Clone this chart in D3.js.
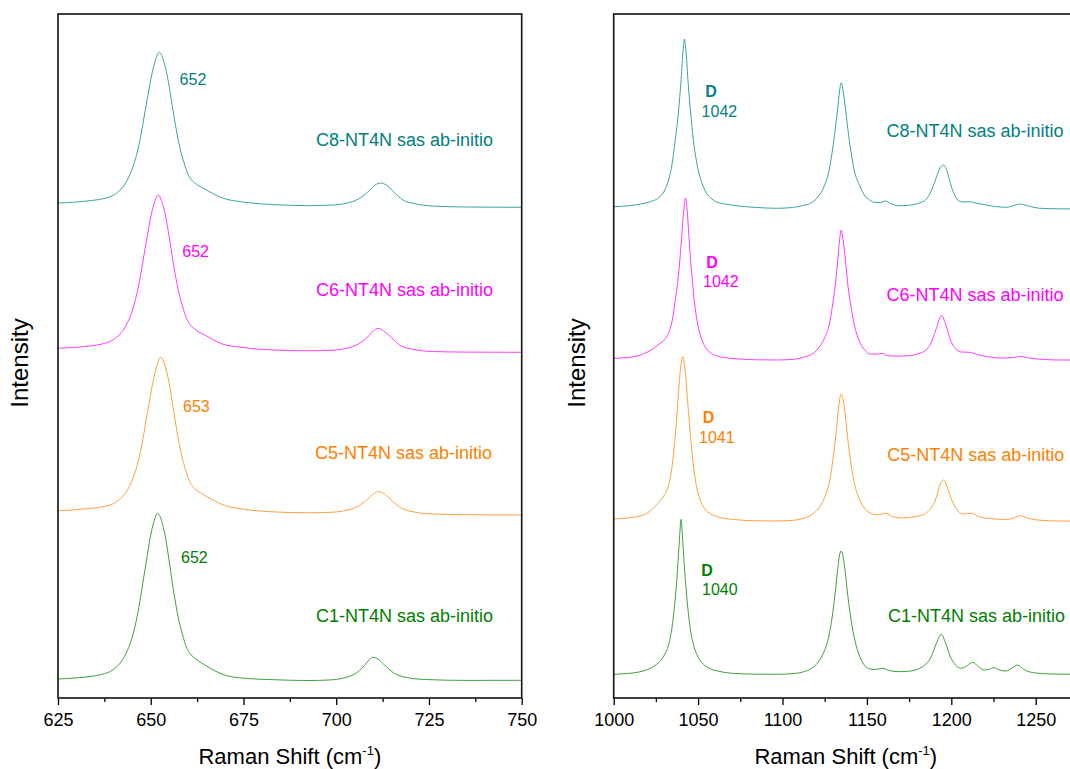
<!DOCTYPE html>
<html>
<head>
<meta charset="utf-8">
<script src="https://cdn.jsdelivr.net/npm/d3@7"></script>
<style>
  body { margin: 0; background: #fff; }
  svg { display: block; font-family: "Liberation Sans", Arial, sans-serif; }
</style>
</head>
<body>
<svg id="chart" width="1070" height="769"></svg>
<script>
// series names / colours (top to bottom)
var seriesNames = ['C8-NT4N sas ab-initio', 'C6-NT4N sas ab-initio', 'C5-NT4N sas ab-initio', 'C1-NT4N sas ab-initio'];
var lineColors = ['#3aa2a2', '#ff3cff', '#ffa040', '#40a040'];
var textColors = ['#008080', '#ff00ff', '#ff8000', '#008000'];

// peak labels
var leftPeaks = ['652', '652', '653', '652'];
var rightPeaks = ['1042', '1042', '1041', '1040'];

// tick values
var leftTicks = [625, 650, 675, 700, 725, 750];
var rightTicks = [1000, 1050, 1100, 1150, 1200, 1250];

// spectra, [raman shift, intensity incl. stack offset]
var c8Left = [[625,495],[630,496],[634,497.5],[637.2,499.3],[640,503],[642,509],[643.7,518],[645.2,531],[646.5,548],[647.5,566],[648.3,583],[649.3,604],[650.2,622],[651.2,637],[652.3,645.7],[653.3,639],[654.3,625],[655.3,604],[656.2,583],[657.1,564],[658,548],[659,535],[659.9,525],[660.8,519],[661.8,515.3],[663.3,511.5],[665,508],[667,504],[669.6,499.7],[674.3,496.3],[683.5,493.3],[692.8,492.3],[699,493],[703,495],[706,499],[708.5,506],[710.5,513],[712,515],[713.5,513],[715.5,506],[718,498],[721,494.5],[726,492],[735,491],[750,490.7]];
var c6Left = [[625,349.7],[630,350.7],[634,352.2],[636.9,354],[639.7,357.8],[641.7,363.9],[643.4,373],[644.9,386],[646.2,403.5],[647.2,421.5],[648,439],[649,460.5],[649.9,479],[650.9,494.5],[652,503],[653,496.3],[654,482],[655,460.5],[655.9,439],[656.8,419.7],[657.7,403.5],[658.7,390],[659.6,380],[660.5,374],[661.5,370],[663,366],[664.7,362.7],[666.7,358.5],[669.3,354],[674,350.9],[683.2,348],[692.5,347.2],[699,347.8],[703,350],[706,354],[708.5,361],[710,367],[711.3,369.7],[712.8,367],[715,360],[717.5,352],[721,348.5],[726,346.5],[735,345.9],[750,345.7]];
var c5Left = [[625,187.3],[630,188.3],[634,189.8],[637.6,191.6],[640.4,195.3],[642.4,201.5],[644.1,210.5],[645.6,223.6],[646.9,240.9],[647.9,259.2],[648.7,276.5],[649.7,297.9],[650.6,316.2],[651.6,331.5],[652.7,340.7],[653.7,334],[654.7,319.8],[655.7,298.4],[656.6,277],[657.5,257.7],[658.4,241.4],[659.4,228.2],[660.3,218],[661.2,212],[662.2,208.2],[663.7,204.4],[665.4,200.8],[667.4,196.8],[670,192.5],[674.7,189],[683.9,186],[693,185.2],[699,185.8],[703,188],[706,192],[708.5,199],[710,204],[711.5,206.3],[713,204],[715,197.5],[717.5,190],[721,186],[726,184],[735,183.3],[750,183]];
var c1Left = [[625,19],[630,20.1],[634,21.7],[636.8,23.6],[639.6,27.7],[641.6,34.3],[643.3,44.2],[644.8,58.5],[646.1,77.2],[647.1,97],[647.9,115.7],[648.9,138.8],[649.8,159.2],[650.8,175.7],[651.9,184.7],[652.9,177.5],[653.9,162],[654.9,138.8],[655.8,115.7],[656.7,94.8],[657.6,77.2],[658.6,62.9],[659.5,51.9],[660.4,45.3],[661.4,41.3],[662.9,37],[664.6,33],[666.6,28.6],[669.2,23.9],[673.9,20.2],[683.1,18.3],[692.4,17.5],[698,18],[702,20],[705,24],[707.5,32],[709,38.5],[709.8,40.7],[711,39.5],[713,33],[715.5,25],[719,20.5],[724,18.5],[735,17.6],[750,17.7]];

var c8Right = [[1000,491.3],[1010,492.5],[1016,494],[1022,496.5],[1026.5,500],[1030,507],[1032.5,518],[1034.5,533],[1036.5,558],[1038.3,585],[1039.8,615],[1041,645],[1041.9,659],[1042.9,645],[1044.1,615],[1045.6,585],[1047.2,558],[1049,537],[1050.5,525],[1052.5,514],[1054.5,506.3],[1057.5,500],[1060.5,496.3],[1066,494],[1072.5,492.3],[1085,490.5],[1096.5,489.7],[1106,490.5],[1112,492.5],[1116.6,494.7],[1121,501],[1124.6,511.3],[1127.5,527],[1129.6,548],[1131.2,568],[1132.6,588],[1133.8,607],[1134.8,615.3],[1135.9,607],[1137.4,588],[1138.8,568],[1140.4,548],[1142.6,527],[1145.6,513],[1148.5,503],[1151.6,498],[1155,495.5],[1158,495.5],[1161,497],[1164,494.5],[1168.7,492.3],[1175,492.8],[1181,495],[1184.7,498],[1187.5,505],[1190.6,518],[1193,529],[1195.3,533],[1197.5,527],[1199.7,513],[1202,503],[1204.7,496.8],[1208,496],[1210.7,496.3],[1215,494.8],[1220.7,493],[1226,491.5],[1232.7,490.7],[1237,492.5],[1241.1,494],[1245,492.3],[1252.7,489.7],[1262,489.2],[1275,489]];
var c6Right = [[1000,339.7],[1008,340.5],[1015,342.5],[1020,346],[1024,350],[1027.4,354.7],[1030,358],[1032.5,365],[1034.5,376],[1036.5,398],[1038.5,425],[1040,455],[1041.4,486],[1042.5,500],[1043.6,486],[1044.8,455],[1046.2,425],[1047.7,398],[1049.3,378],[1051,365],[1053,355],[1055.5,348],[1059,343.5],[1064,341],[1072,339.3],[1085,338.2],[1097,338],[1107,338.8],[1113,341],[1117,343.5],[1121,349],[1124.6,359],[1127.5,372],[1129.6,392],[1131.2,412],[1132.6,436],[1133.8,458],[1134.8,468],[1135.9,458],[1137.4,436],[1138.8,412],[1140.5,392],[1142.7,372],[1145.5,357],[1148.5,348.5],[1152,344],[1156,343.8],[1158.8,344.7],[1162,342.5],[1168,341.8],[1175,342.5],[1181,344.5],[1185,348],[1188,355],[1190.8,368],[1194.3,382.3],[1196.8,373],[1199.5,358],[1202.5,349.5],[1206,346],[1210.7,345.7],[1215,343.5],[1221,341.5],[1230,340],[1237,340.5],[1241.3,341.5],[1245,340.3],[1255,338.5],[1265,338],[1275,338]];
var c5Right = [[1000,179],[1008,180],[1014,181.5],[1019,184],[1023,189],[1026,194.5],[1027.8,198],[1030,203],[1032,210],[1034,225],[1035.8,250],[1037.3,280],[1038.6,310],[1039.8,333],[1040.9,341.3],[1042,333],[1043.2,310],[1044.6,280],[1046.1,250],[1047.8,225],[1049.5,208],[1051.5,197],[1054,189],[1057.5,184],[1063,180.5],[1072,178.3],[1085,177.2],[1097,177],[1107,177.8],[1113,180],[1117,183],[1121,189],[1124.6,199],[1127.5,214],[1129.6,235],[1131.2,257],[1132.6,280],[1133.8,298],[1134.8,304],[1135.9,298],[1137.4,280],[1138.8,257],[1140.5,235],[1142.7,214],[1145.5,199],[1148.5,190],[1152,185],[1156,183.2],[1161.3,184.7],[1165,181.5],[1171,180],[1177,181],[1181.5,182.3],[1185,185],[1188,190],[1191,200],[1193.3,213],[1195.3,218],[1197.4,212],[1200,199],[1203,189],[1207,184],[1212,184.7],[1217,181],[1224,179.3],[1232,178.5],[1237,180],[1241,182.3],[1245,180],[1255,177.5],[1265,177],[1275,177]];
var c1Right = [[1000,23.7],[1008,24.5],[1015,26],[1020,28.5],[1024,32],[1027,36],[1030,43],[1032.5,53],[1034.5,70],[1036.3,97],[1037.8,128],[1039,160],[1039.9,178.7],[1040.8,160],[1042,128],[1043.5,97],[1045.3,70],[1047.3,53],[1050,41],[1053,34],[1057,29.5],[1063,26.5],[1072,24.5],[1085,23.8],[1097,23.7],[1107,24.5],[1113,26.5],[1117,29.5],[1121,35.5],[1124.5,46],[1127.5,62],[1129.6,83],[1131.2,105],[1132.6,127],[1133.8,143],[1134.7,147],[1135.7,143],[1137.1,127],[1138.5,105],[1140.2,83],[1142.3,62],[1145,45],[1148,34],[1151,29.5],[1155,28.5],[1159.2,29.7],[1163,27.5],[1169,26.3],[1176,27],[1181,29.5],[1185,34],[1188,41],[1190.8,53],[1194,63.7],[1196.8,54],[1199.5,41],[1202.5,33],[1206,29.7],[1209.5,32.5],[1212.7,35.7],[1216,31.5],[1219.5,28],[1222.5,28.8],[1225.3,30.3],[1228.5,28],[1232.4,27],[1236,30],[1239.3,33],[1243,28.5],[1250,25],[1260,24],[1275,23.7]];

var leftSeries = [c8Left, c6Left, c5Left, c1Left];
var rightSeries = [c8Right, c6Right, c5Right, c1Right];

var svg = d3.select('#chart');
var plotTop = 14, plotBottom = 698;

var y = d3.scaleLinear().domain([0, 684]).range([plotBottom, plotTop]);

var panels = [
    { id: 'L', x: d3.scaleLinear().domain([625, 750]).range([58, 521.7]), ticks: leftTicks, minorStep: 12.5, series: leftSeries, titleX: 28 },
    { id: 'R', x: d3.scaleLinear().domain([1000, 1275]).range([613.7, 1077.9]), ticks: rightTicks, minorStep: 25, series: rightSeries, titleX: 585 }
];

panels.forEach(function (p) {
    var x0 = p.x.range()[0], x1 = p.x.range()[1];

    svg.append('clipPath').attr('id', 'clip' + p.id)
        .append('rect').attr('x', x0).attr('y', plotTop).attr('width', x1 - x0).attr('height', plotBottom - plotTop);

    var line = d3.line()
        .x(function (d) { return p.x(d[0]); })
        .y(function (d) { return y(d[1]); })
        .curve(d3.curveMonotoneX);

    svg.append('g').attr('clip-path', 'url(#clip' + p.id + ')')
        .selectAll('path')
        .data(p.series)
        .enter()
        .append('path')
        .attr('d', line)
        .attr('fill', 'none')
        .attr('stroke', function (d, i) { return lineColors[i]; })
        .attr('stroke-width', 1);

    // minor ticks
    var minor = d3.range(p.x.domain()[0], p.x.domain()[1] + 0.01, p.minorStep)
        .filter(function (v) { return p.ticks.indexOf(v) < 0; });
    svg.append('g').attr('transform', 'translate(0,' + plotBottom + ')')
        .call(d3.axisBottom(p.x).tickValues(minor).tickSize(4).tickFormat(''))
        .call(function (g) { g.select('.domain').remove(); })
        .selectAll('line').attr('stroke', '#000').attr('stroke-width', 1.3);

    // major ticks
    var ax = svg.append('g').attr('transform', 'translate(0,' + plotBottom + ')')
        .call(d3.axisBottom(p.x).tickValues(p.ticks).tickSize(7).tickPadding(8).tickFormat(d3.format('d')));
    ax.select('.domain').remove();
    ax.selectAll('line').attr('stroke', '#000').attr('stroke-width', 1.3);
    ax.selectAll('text').attr('font-size', 18).attr('fill', '#000')
        .attr('font-family', '"Liberation Sans", Arial, sans-serif');

    // frame
    svg.append('rect')
        .attr('x', x0).attr('y', plotTop)
        .attr('width', x1 - x0).attr('height', plotBottom - plotTop)
        .attr('fill', 'none').attr('stroke', '#111').attr('stroke-width', 1.6);

    // axis titles
    var t = svg.append('text')
        .attr('x', (x0 + x1) / 2).attr('y', 764)
        .attr('text-anchor', 'middle').attr('font-size', 22);
    t.append('tspan').text('Raman Shift (cm');
    t.append('tspan').attr('font-size', 13).attr('dy', -9).text('-1');
    t.append('tspan').attr('dy', 9).text(')');

    svg.append('text')
        .attr('transform', 'translate(' + p.titleX + ',363) rotate(-90)')
        .attr('text-anchor', 'middle').attr('font-size', 24)
        .text('Intensity');
});

// annotations
var leftPeakPos = [[179.6, 85], [182.3, 257], [183, 412], [181, 563]];
var leftNamePos = [[316, 146], [316, 296], [315, 459], [316, 622]];
var rightDPos = [[711, 97], [712, 268], [708.5, 423], [707, 576]];
var rightPeakPos = [[701.6, 117], [703, 287], [699, 443], [702, 595]];
var rightNamePos = [[886.5, 137], [886.5, 301], [887.3, 461], [888, 622]];

seriesNames.forEach(function (name, i) {
    svg.append('text').attr('x', leftPeakPos[i][0]).attr('y', leftPeakPos[i][1])
        .attr('font-size', 16).attr('fill', textColors[i]).text(leftPeaks[i]);
    svg.append('text').attr('x', leftNamePos[i][0]).attr('y', leftNamePos[i][1])
        .attr('font-size', 18).attr('fill', textColors[i]).text(name);
    svg.append('text').attr('x', rightDPos[i][0]).attr('y', rightDPos[i][1])
        .attr('text-anchor', 'middle').attr('font-weight', 'bold')
        .attr('font-size', 16).attr('fill', textColors[i]).text('D');
    svg.append('text').attr('x', rightPeakPos[i][0]).attr('y', rightPeakPos[i][1])
        .attr('font-size', 16).attr('fill', textColors[i]).text(rightPeaks[i]);
    svg.append('text').attr('x', rightNamePos[i][0]).attr('y', rightNamePos[i][1])
        .attr('font-size', 18).attr('fill', textColors[i]).text(name);
});
</script>
</body>
</html>
